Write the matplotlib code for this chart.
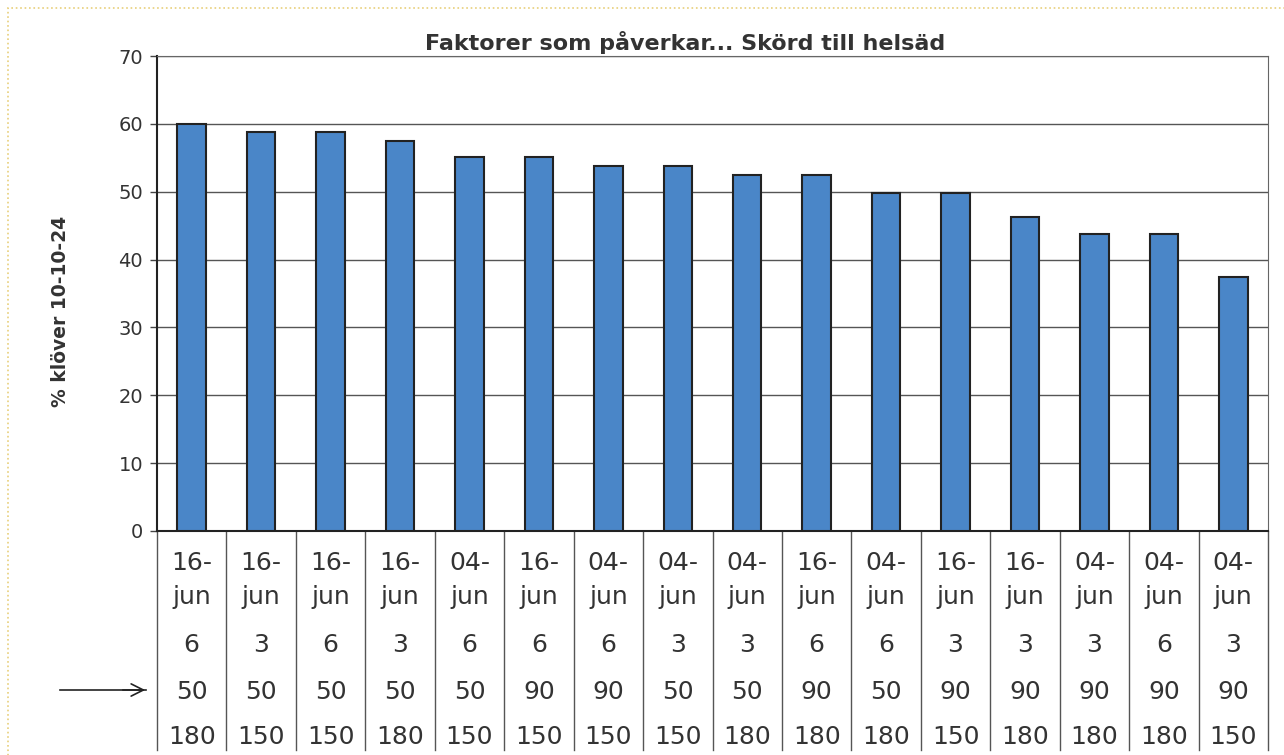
import matplotlib.pyplot as plt
from matplotlib import transforms
from matplotlib.patches import Rectangle

# --------------------
# Data
# --------------------
values = [60.0, 58.8, 58.8, 57.5, 55.1, 55.1, 53.8, 53.8,
          52.5, 52.5, 49.8, 49.8, 46.3, 43.8, 43.8, 37.4]
dates = ["16-jun", "16-jun", "16-jun", "16-jun", "04-jun", "16-jun", "04-jun", "04-jun",
         "04-jun", "16-jun", "04-jun", "16-jun", "16-jun", "04-jun", "04-jun", "04-jun"]
row2 = ["6", "3", "6", "3", "6", "6", "6", "3", "3", "6", "6", "3", "3", "3", "6", "3"]
row3 = ["50", "50", "50", "50", "50", "90", "90", "50", "50", "90", "50", "90", "90", "90", "90", "90"]
row4 = ["180", "150", "150", "180", "150", "150", "150", "150",
        "180", "180", "180", "150", "180", "180", "180", "150"]

TEXT = "#333333"
plt.rcParams['font.family'] = ['DejaVu Sans']

fig = plt.figure(figsize=(12.84, 7.55), dpi=100)
W, H = 1284, 755
ax = fig.add_axes([157 / W, 1 - 531 / H, (1268 - 157) / W, (531 - 56) / H])

x = list(range(len(values)))
ax.bar(x, values, width=0.41, color="#4a86c8", edgecolor="#222222", linewidth=1.5, zorder=3)

ax.set_xlim(-0.5, len(values) - 0.5)
ax.set_ylim(0, 70)
ax.set_yticks(range(0, 71, 10))
ax.set_xticks([])
ax.tick_params(axis="y", labelsize=14, labelcolor=TEXT, color="#444444",
               length=5, width=1, direction="out", pad=5)
ax.yaxis.grid(True, color="#555555", linewidth=1.0, zorder=0)
ax.spines["left"].set_color("#222222")
ax.spines["left"].set_linewidth(1.5)
ax.spines["bottom"].set_color("#222222")
ax.spines["bottom"].set_linewidth(1.5)
ax.spines["top"].set_color("#666666")
ax.spines["right"].set_color("#666666")

fig.text((685) / W, 1 - 42 / H, "Faktorer som påverkar... Skörd till helsäd", fontsize=16,
         fontweight="bold", color=TEXT, ha="center", va="center")
ax.set_ylabel("% klöver 10-10-24", fontsize=13.5, fontweight="bold", color=TEXT)
ax.yaxis.set_label_coords((70 - 157) / 1111, (531 - 311) / 475)

# --------------------
# Table below the axis
# --------------------
trans = transforms.blended_transform_factory(ax.transData, fig.transFigure)

def fy(py):
    return 1 - py / H

for i in range(len(values) + 1):
    ax.plot([i - 0.5, i - 0.5], [fy(531), fy(750)], transform=trans,
            color="#555555", linewidth=1.0, clip_on=False)

for i in x:
    day, month = dates[i].split("-")
    for txt, py in [(day + "-", 563), (month, 597), (row2[i], 645),
                    (row3[i], 692), (row4[i], 737)]:
        ax.text(i, fy(py), txt, transform=trans, ha="center", va="center",
                fontsize=18, color=TEXT)

# arrow pointing at the third row
fig.add_artist(plt.Line2D([60 / W, 146 / W], [fy(690), fy(690)], color="#222222", linewidth=1.2))
ax.annotate("", xy=(148 / W, fy(690)), xytext=(120 / W, fy(690)),
            xycoords="figure fraction", textcoords="figure fraction",
            arrowprops=dict(arrowstyle="->", color="#222222", lw=1.2, mutation_scale=22))

# faint scan border
fig.add_artist(Rectangle((8 / W, -0.01), 1.0, 1 - 8 / H + 0.01, transform=fig.transFigure,
                         fill=False, edgecolor="#e8cf7a", linewidth=1.2, linestyle=":"))

fig.savefig("out.png", dpi=100, facecolor="white")
